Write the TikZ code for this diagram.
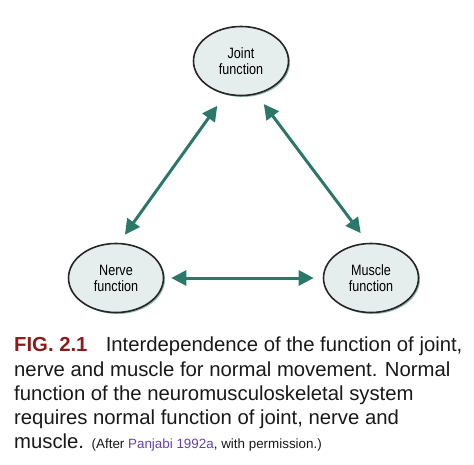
\documentclass[tikz,border=0pt]{standalone}
\usepackage{fontspec}
\setmainfont{Liberation Sans}
\newfontfamily\condfont[FakeStretch=0.84]{Liberation Sans}
\usepackage{tikz}
\usetikzlibrary{arrows.meta, positioning, shapes.geometric, shadows}
\definecolor{arrowteal}{RGB}{44,120,104}
\definecolor{ovalfill}{RGB}{230,237,237}
\definecolor{figred}{RGB}{140,28,28}
\definecolor{refpurple}{RGB}{104,64,168}

\begin{document}
\begin{tikzpicture}[x=1pt, y=1pt,
    oval/.style={draw=black!85, line width=1.6pt, ellipse, fill=ovalfill, minimum width=95pt, minimum height=69pt, inner sep=0pt, align=center, font=\condfont\fontsize{15}{16}\selectfont, drop shadow={shadow xshift=1.5pt, shadow yshift=-1.5pt, fill=arrowteal, opacity=0.5}},
    link/.style={draw=arrowteal, line width=3pt, {Triangle[length=15pt,width=15pt]}-{Triangle[length=15pt,width=15pt]}}]
    \useasboundingbox (0,0) rectangle (474,-465);
    \node (joint) [oval] at (241,-61) {Joint\\function};
    \node (nerve) [oval, on grid, below left=217pt and 125pt of joint] {Nerve\\function};
    \node (muscle) [oval, on grid, right=255pt of nerve] {Muscle\\function};

    \draw[link, shorten <=10pt, shorten >=14pt] (nerve.85) -- (joint.245);
    \draw[link, shorten <=12pt, shorten >=12pt] (joint.295) -- (muscle.95);
    \draw[link, shorten <=7pt, shorten >=9pt] (nerve.east) -- (muscle.west);

    \node (caption) [anchor=north west, inner sep=0pt, align=left, text=black!90, font=\fontsize{20.3}{24.2}\selectfont] at (14,-337) {{\color{figred}\bfseries FIG. 2.1}\hspace{0.9em}Interdependence of the function of joint,\\ nerve and muscle for normal movement. Normal\\ function of the neuromusculoskeletal system\\ requires normal function of joint, nerve and\\ muscle. {\fontsize{13.4}{15}\selectfont(After {\color{refpurple}Panjabi 1992a}, with permission.)}};
\end{tikzpicture}
\end{document}
